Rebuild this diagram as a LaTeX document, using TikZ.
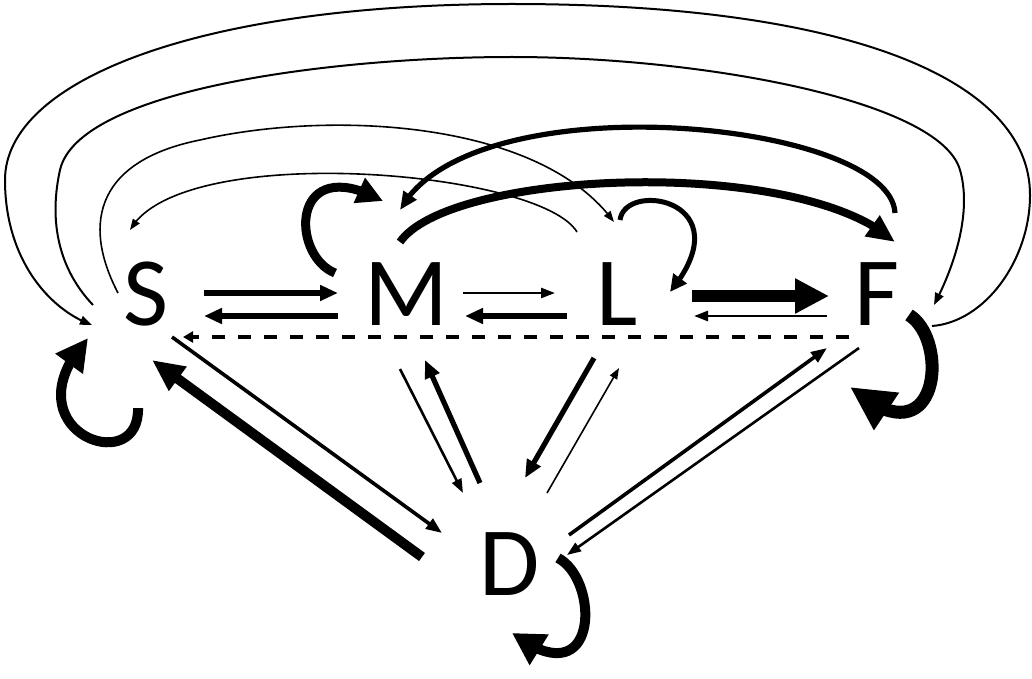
\documentclass[tikz,border=0pt]{standalone}
\usepackage{fontspec}
\setmainfont{Carlito}
\usetikzlibrary{arrows.meta,bending}
\begin{document}
\begin{tikzpicture}[x=1pt,y=-1pt,
  lett/.style={inner sep=0pt,font=\fontsize{98}{98}\selectfont},
  ta/.style={line width=1.6pt,-{Triangle[length=11pt,width=8pt]}},
  tout/.style={line width=2pt,-{Triangle[length=12pt,width=9pt]}},
  tb/.style={line width=2.6pt,-{Triangle[length=14pt,width=10pt]}},
  tc/.style={line width=3.6pt,-{Triangle[length=16pt,width=12pt]}},
  td/.style={line width=5.2pt,-{Triangle[length=18pt,width=15pt]}},
  te/.style={line width=8pt,-{Triangle[length=28pt,width=24pt]}},
  tf/.style={line width=10pt,-{Triangle[length=32pt,width=28pt]}},
  tg/.style={line width=12pt,-{Triangle[length=34pt,width=33pt]}},
  dash line/.style={line width=3.4pt,dash pattern=on 13pt off 13pt,-{Triangle[length=10pt,width=11pt]}}
]
\useasboundingbox (0,0) rectangle (1032,679);
\node[lett] (S) at (146,294) {S};
\node[lett] (M) at (406,294) {M};
\node[lett] (L) at (617,294) {L};
\node[lett] (F) at (877,294) {F};
\node[lett] (D) at (510,564) {D};

% horizontal arrows
\draw[td] ([shift={(58,-1)}]S.center) -- ([shift={(-68,-1)}]M.center);
\draw[td] ([shift={(-68,22)}]M.center) -- ([shift={(58,22)}]S.center);
\draw[tb] ([shift={(57,-1)}]M.center) -- ([shift={(-62,-1)}]L.center);
\draw[td] ([shift={(-50,22)}]L.center) -- ([shift={(59,22)}]M.center);
\draw[tg] ([shift={(75,2)}]L.center) -- ([shift={(-48,2)}]F.center);
\draw[tb] ([shift={(-50,22)}]F.center) -- ([shift={(77,22)}]L.center);
\draw[dash line] ([shift={(-28,43)}]F.center) -- ([shift={(37,43)}]S.center);

% diagonal arrows
\draw[tc] ([shift={(26,43)}]S.center) -- ([shift={(-68,-31)}]D.center);
\draw[tf] ([shift={(-88,-7)}]D.center) -- ([shift={(6,66)}]S.center);
\draw[tb] ([shift={(-6,75)}]M.center) -- ([shift={(-47,-71)}]D.center);
\draw[td] ([shift={(-30,-81)}]D.center) -- ([shift={(19,66)}]M.center);
\draw[td] ([shift={(-23,64)}]L.center) -- ([shift={(15,-86)}]D.center);
\draw[ta] ([shift={(37,-71)}]D.center) -- ([shift={(2,74)}]L.center);
\draw[tc] ([shift={(59,-29)}]D.center) -- ([shift={(-50,54)}]F.center);
\draw[tb] ([shift={(-18,54)}]F.center) -- ([shift={(57,-9)}]D.center);

% upper arcs
\draw[te] ([shift={(-6,-52)}]M.center) .. controls (450,170) and (800,155) .. ([shift={(18,-52)}]F.center);
\draw[td] ([shift={(18,-81)}]F.center) .. controls (890,120) and (470,80) .. ([shift={(-6,-84)}]M.center);
\draw[ta] ([shift={(-40,-62)}]L.center) .. controls (540,170) and (180,140) .. ([shift={(-16,-64)}]S.center);
\draw[ta] ([shift={(-28,-1)}]S.center) .. controls (80,220) and (100,160) .. (200,140)
  .. controls (330,110) and (540,120) .. ([shift={(-3,-72)}]L.center);
\draw[tout] ([shift={(-53,11)}]S.center) .. controls (55,265) and (50,215) .. (60,170)
  .. controls (78,90) and (330,57) .. (512,57)
  .. controls (700,57) and (940,100) .. (960,170)
  .. controls (972,212) and (955,265) .. ([shift={(57,11)}]F.center);
\draw[tout] ([shift={(55,32)}]F.center) .. controls (985,322) and (1030,260) .. (1030,195)
  .. controls (1030,80) and (850,4) .. (512,4)
  .. controls (200,4) and (5,80) .. (5,180)
  .. controls (5,260) and (50,310) .. ([shift={(-54,31)}]S.center);

% self loops
\draw[line width=10pt,-{Triangle[length=32pt,width=32pt]}] ([shift={(-8,114)}]S.center) .. controls (140,480) and (5,430) .. ([shift={(-58,44)}]S.center);
\draw[line width=9pt,-{Triangle[length=26pt,width=26pt]}] ([shift={(-71,-21)}]M.center) .. controls (290,255) and (290,150) .. ([shift={(-23,-93)}]M.center);
\draw[line width=5pt,-{Triangle[length=17pt,width=16pt]}] ([shift={(3,-74)}]L.center) .. controls (625,180) and (745,200) .. ([shift={(53,-2)}]L.center);
\draw[line width=13pt,-{Triangle[length=44pt,width=42pt]}] ([shift={(32,21)}]F.center) .. controls (950,340) and (940,465) .. ([shift={(-27,93)}]F.center);
\draw[line width=10pt,-{Triangle[length=32pt,width=34pt]}] ([shift={(48,-6)}]D.center) .. controls (600,580) and (600,700) .. ([shift={(2,69)}]D.center);
\end{tikzpicture}
\end{document}
